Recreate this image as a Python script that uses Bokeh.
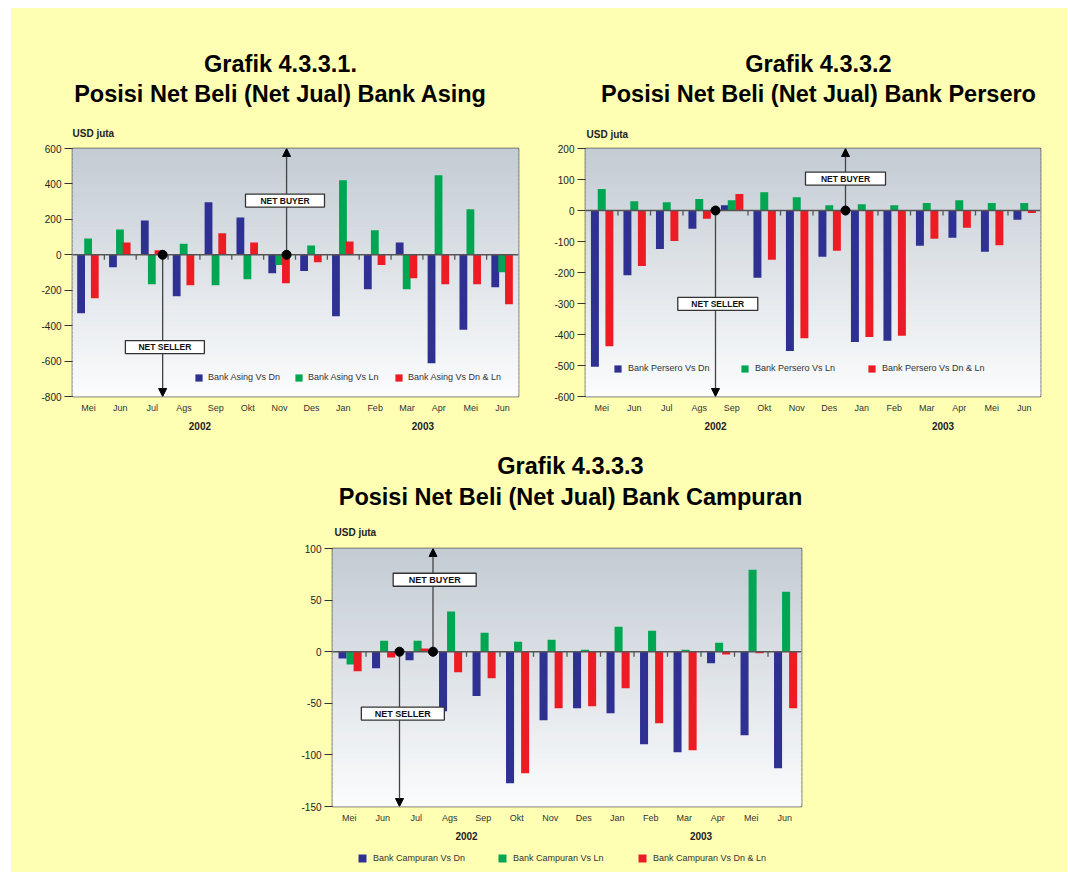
import numpy as np
from bokeh.plotting import figure
from bokeh.models import (FactorRange, ColumnDataSource, Legend, LegendItem, Arrow,
                          NormalHead, Label, FixedTicker, Spacer, Range1d)
from bokeh.transform import dodge
from bokeh.layouts import column, row
from bokeh.embed import file_html
from bokeh.resources import INLINE
from bokeh.core.properties import value

# ---------------- data ----------------
years = ["2002"] * 8 + ["2003"] * 6
months = ["Mei", "Jun", "Jul", "Ags", "Sep", "Okt", "Nov", "Des",
          "Jan", "Feb", "Mar", "Apr", "Mei", "Jun"]

asing_dn = [-330, -70, 194, -234, 296, 211, -104, -92, -347, -194, 70, -613, -423, -183]
asing_ln = [92, 143, -166, 62, -172, -138, -58, 53, 421, 138, -194, 449, 257, -98]
asing_dnln = [-245, 70, 25, -172, 121, 70, -160, -42, 75, -58, -132, -166, -166, -279]

persero_dn = [-504, -209, -124, -59, 17, -217, -453, -149, -424, -420, -114, -88, -133, -30]
persero_ln = [69, 30, 27, 37, 33, 59, 43, 17, 20, 17, 24, 33, 24, 24]
persero_dnln = [-438, -179, -98, -27, 53, -159, -412, -130, -408, -404, -91, -56, -112, -8]

campuran_dn = [-6.5, -16, -8.4, -57.7, -43, -127.4, -66.5, -54.8, -59.7, -89.7, -97.4, -11.3, -81, -113]
campuran_ln = [-12.3, 10.6, 10.6, 39, 18.4, 9.7, 11.6, 1.9, 24.2, 20.3, 1.9, 8.7, 79.4, 58]
campuran_dnln = [-19, -5.5, 3.2, -20, -25.8, -117.7, -54.8, -52.9, -35.5, -69.4, -95.5, -2.6, -1.6, -54.8]

asing_labels = ["Bank Asing Vs Dn", "Bank Asing Vs Ln", "Bank Asing Vs Dn & Ln"]
persero_labels = ["Bank Persero Vs Dn", "Bank Persero Vs Ln", "Bank Persero Vs Dn & Ln"]
campuran_labels = ["Bank Campuran Vs Dn", "Bank Campuran Vs Ln", "Bank Campuran Vs Dn & Ln"]

asing_ticks = [-800, -600, -400, -200, 0, 200, 400, 600]
persero_ticks = [-600, -500, -400, -300, -200, -100, 0, 100, 200]
campuran_ticks = [-150, -100, -50, 0, 50, 100]

titles_1 = ["Grafik 4.3.3.1.", "Posisi Net Beli (Net Jual) Bank Asing"]
titles_2 = ["Grafik 4.3.3.2", "Posisi Net Beli (Net Jual) Bank Persero"]
titles_3 = ["Grafik 4.3.3.3", "Posisi Net Beli (Net Jual) Bank Campuran"]

# ---------------- style ----------------
FONT = "Liberation Sans"
YELLOW = "#FFFFB4"
BLUE, GREEN, RED = "#2E3192", "#00A651", "#ED1C24"
SERIES_COLORS = [BLUE, GREEN, RED]
TOP_C = np.array([196, 204, 212])
BOT_C = np.array([251, 252, 253])


def blank(width, height):
    """Blank yellow strip whose frame fills it; coordinates are pixels (y downwards)."""
    h = figure(width=width, height=height, x_range=Range1d(0, width),
               y_range=Range1d(height, 0), output_backend="svg", toolbar_location=None,
               min_border=0, x_axis_type=None, y_axis_type=None)
    h.outline_line_color = None
    h.background_fill_color = YELLOW
    h.border_fill_color = YELLOW
    h.grid.visible = False
    return h


def header(width, height, items):
    h = blank(width, height)
    for txt, x, y, size, align in items:
        h.add_layout(Label(x=x, y=y, text=txt, text_align=align, text_baseline="middle",
                           text_font=FONT, text_font_size=size, text_font_style="bold",
                           text_color="black" if size != "10px" else "#222222"))
    return h


def make_legend(items, lg):
    return Legend(items=items, orientation="horizontal", location=lg["loc"],
                  glyph_width=lg["g"], glyph_height=lg["g"], label_width=lg["lw"],
                  label_height=lg["g"], spacing=0, padding=0, margin=0,
                  label_standoff=lg["so"], background_fill_alpha=0, border_line_alpha=0,
                  label_text_font=FONT, label_text_font_size="9px",
                  label_text_color="#333333")


def make_chart(cfg):
    factors = list(zip(years, months))
    n = len(factors)
    fl, fr, ft, fb = cfg["frame"]
    px0, py0 = cfg["origin"]
    W, H = cfg["size"]
    y0, y1 = cfg["yrange"]

    xr = FactorRange(factors=factors, factor_padding=0, group_padding=0,
                     subgroup_padding=0, range_padding=0)
    p = figure(x_range=xr, y_range=Range1d(y0, y1), width=W, height=H,
               output_backend="svg", toolbar_location=None,
               min_border_left=fl - px0, min_border_right=px0 + W - fr,
               min_border_top=ft - py0, min_border_bottom=py0 + H - fb)
    p.border_fill_color = YELLOW
    p.background_fill_color = "#F6F7F8"
    p.outline_line_color = "#3A3A3A"
    p.outline_line_width = 1.5
    p.grid.visible = False

    # gradient background (decoration)
    ns = 60
    edges = np.linspace(y1, y0, ns + 1)
    cols = []
    for i in range(ns):
        t = i / (ns - 1)
        c = (TOP_C * (1 - t) + BOT_C * t).astype(int)
        cols.append("#%02x%02x%02x" % tuple(c))
    p.quad(left=0, right=n, top=edges[:-1], bottom=edges[1:], fill_color=cols,
           line_color=cols, line_width=1, level="image")

    # arrows
    bx, sx = cfg["buyer_x"], cfg["seller_x"]
    head = dict(size=8, fill_color="black", line_color="black")
    p.add_layout(Arrow(end=NormalHead(**head), x_start=bx, y_start=0, x_end=bx, y_end=y1,
                       line_color="#444444", line_width=1.3, level="underlay"))
    p.add_layout(Arrow(end=NormalHead(**head), x_start=sx, y_start=0, x_end=sx, y_end=y0,
                       line_color="#444444", line_width=1.3, level="underlay"))

    src = ColumnDataSource(dict(x=factors, dn=cfg["dn"], ln=cfg["ln"], dnln=cfg["dnln"]))
    offs = cfg["offsets"]
    bw = cfg["bw"]
    rs = []
    for key, off, col in zip(["dn", "ln", "dnln"], offs, SERIES_COLORS):
        r = p.vbar(x=dodge("x", off, range=p.x_range), top=key, bottom=0, width=bw,
                   source=src, fill_color=col, line_color=None)
        rs.append(r)

    # zero line with category-boundary ticks
    tick_len = 5 * (y1 - y0) / (fb - ft)
    p.segment(x0=[0], y0=[0], x1=[n], y1=[0], line_color="#555555", line_width=1.6)
    bnd = list(range(1, n))
    p.segment(x0=bnd, y0=[0] * len(bnd), x1=bnd, y1=[-tick_len] * len(bnd),
              line_color="#555555", line_width=1.3)
    p.scatter(x=[bx, sx], y=[0, 0], size=9, color="black")

    # boxes
    bxs = [cfg["buyer_box"][0], cfg["seller_box"][0]]
    bys = [cfg["buyer_box"][1], cfg["seller_box"][1]]
    p.rect(x=bxs, y=bys, width=cfg["box_w"], height=13, width_units="screen",
           height_units="screen", fill_color="white", line_color="#333333", line_width=1.3)
    p.text(x=bxs, y=bys, text=["NET BUYER", "NET SELLER"], text_align="center",
           text_baseline="middle", text_font=value(FONT), text_font_size=cfg["box_font"],
           text_font_style="bold", text_color="#111111")

    # axes
    p.yaxis.ticker = FixedTicker(ticks=cfg["yticks"])
    p.yaxis.major_label_overrides = {t: str(t) for t in cfg["yticks"]}
    p.yaxis.major_tick_out = 8
    p.yaxis.major_tick_in = 0
    p.yaxis.minor_tick_line_color = None
    p.yaxis.axis_line_color = None
    p.yaxis.major_tick_line_color = "#333333"
    p.yaxis.major_label_standoff = 3
    p.yaxis.major_label_text_font = FONT
    p.yaxis.major_label_text_font_size = "10px"
    p.yaxis.major_label_text_color = "#222222"

    p.xaxis.axis_line_color = None
    p.xaxis.major_tick_line_color = None
    p.xaxis.minor_tick_line_color = None
    p.xaxis.major_tick_out = 0
    p.xaxis.major_tick_in = 0
    p.xaxis.major_label_standoff = 6
    p.xaxis.major_label_text_font = FONT
    p.xaxis.major_label_text_font_size = "9px"
    p.xaxis.major_label_text_color = "#333333"
    p.xaxis.separator_line_color = None
    p.xaxis.group_text_font = FONT
    p.xaxis.group_text_font_size = "10px"
    p.xaxis.group_text_font_style = "bold"
    p.xaxis.group_text_color = "#222222"

    lg = cfg.get("legend")
    if lg is not None:
        p.add_layout(make_legend([LegendItem(label=lab, renderers=[r])
                                  for lab, r in zip(cfg["labels"], rs)], lg))
    return p


# page geometry (body margin is 0): yellow area starts at x=11, y=8
X0 = 11
H1 = header(1056, 132, [
    (titles_1[0], 280 - X0, 63 - 8, "23.5px", "center"),
    (titles_1[1], 280 - X0, 93 - 8, "23.5px", "center"),
    (titles_2[0], 818 - X0, 63 - 8, "23.5px", "center"),
    (titles_2[1], 818 - X0, 93 - 8, "23.5px", "center"),
    ("USD juta", 72 - X0, 133 - 8, "10px", "left"),
    ("USD juta", 586 - X0, 134 - 8, "10px", "left"),
])

f1 = make_chart(dict(
    origin=(11, 140), size=(529, 300), frame=(72, 518, 148, 396), yrange=(-800, 600),
    yticks=asing_ticks, dn=asing_dn, ln=asing_ln, dnln=asing_dnln, labels=asing_labels,
    offsets=(-0.23, -0.01, 0.2), bw=0.245,
    buyer_x=6.72, seller_x=2.83, buyer_box=(6.67, 306), seller_box=(2.9, -521),
    box_w=79, box_font="8.5px",
    legend=dict(loc=(122, 14), g=9, lw=86, so=5)))

f2 = make_chart(dict(
    origin=(540, 140), size=(527, 300), frame=(585, 1040, 148, 396), yrange=(-600, 200),
    yticks=persero_ticks, dn=persero_dn, ln=persero_ln, dnln=persero_dnln,
    labels=persero_labels, offsets=(-0.21, 0.0, 0.235), bw=0.245,
    buyer_x=8.0, seller_x=4.0, buyer_box=(8.0, 103), seller_box=(4.07, -301),
    box_w=80, box_font="8.5px",
    legend=dict(loc=(28, 23), g=9, lw=112, so=6)))

H2 = header(1056, 100, [
    (titles_3[0], 570 - X0, 465 - 440, "23.5px", "center"),
    (titles_3[1], 570 - X0, 496 - 440, "23.5px", "center"),
    ("USD juta", 334 - X0, 532 - 440, "10px", "left"),
])

f3 = make_chart(dict(
    origin=(11, 540), size=(1056, 306), frame=(332, 801, 548, 806), yrange=(-150, 100),
    yticks=campuran_ticks, dn=campuran_dn, ln=campuran_ln, dnln=campuran_dnln,
    labels=campuran_labels, offsets=(-0.2, 0.04, 0.25), bw=0.24,
    buyer_x=3.0, seller_x=2.0, buyer_box=(3.05, 69.7), seller_box=(2.1, -60),
    box_w=83, box_font="9px", legend=None))

# legend strip below chart 3 (y from 846 to 872); swatches share the series colours
# (one zero-height swatch bar placed outside the strip's visible range)
F3 = blank(1056, 26)
swatches = [F3.vbar(x=[-50], top=[0], bottom=[0], width=1, fill_color=c, line_color=None)
            for c in SERIES_COLORS]
F3.add_layout(make_legend([LegendItem(label=lab, renderers=[r])
                           for lab, r in zip(campuran_labels, swatches)],
                          dict(loc=(357 - X0, 9), g=10, lw=124, so=6)))

ybg = {"background-color": YELLOW}
content = column(row(H1, styles=ybg), row(f1, f2, styles=ybg), row(H2, styles=ybg),
                 row(f3, styles=ybg), row(F3, styles=ybg), styles=ybg)
layout = column(Spacer(width=1067, height=8), row(Spacer(width=11, height=864), content))

open("out.html", "w").write(file_html(layout, INLINE))
